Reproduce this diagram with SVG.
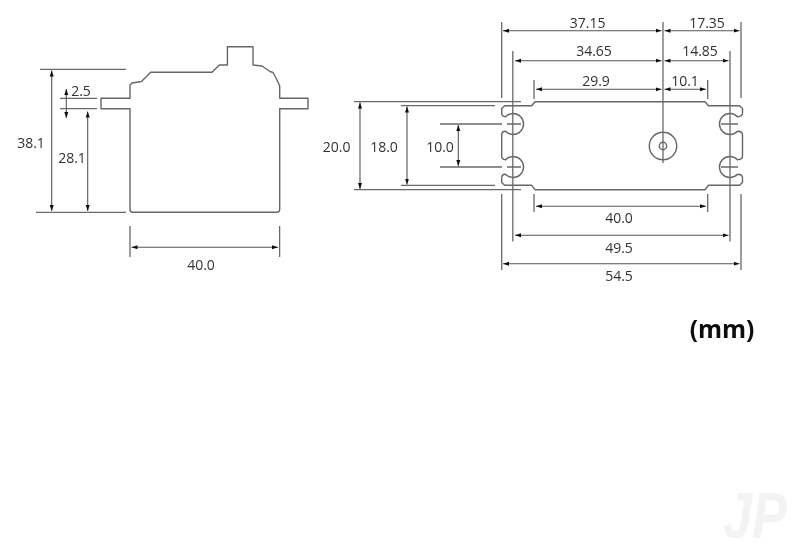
<svg xmlns="http://www.w3.org/2000/svg" width="800" height="556" viewBox="0 0 800 556">
<style>
text{font-family:"Open Sans","Liberation Sans",sans-serif;font-size:14px;fill:#333;text-anchor:middle}
.o{fill:none;stroke:#666;stroke-width:1.4;stroke-linejoin:round}
.e{fill:none;stroke:#6a6a6a;stroke-width:1.3}
line{stroke:#555;stroke-width:1.1;marker-start:url(#a);marker-end:url(#a)}
</style>
<defs>
<marker id="a" markerUnits="userSpaceOnUse" markerWidth="7" markerHeight="6" refX="6" refY="3" orient="auto-start-reverse"><path d="M0 1L6 3L0 5Z" fill="#111"/></marker>
<filter id="soft" x="0" y="0" width="1" height="1"><feGaussianBlur stdDeviation="0.35"/></filter>
</defs>
<rect width="800" height="556" fill="#fff"/>
<g filter="url(#soft)">
<g id="side-view"><path class="o" d="M130 98.3V85L132 83L141.5 81.5L150.7 72.3H212L219.3 65H227.4V46.7H253V65L262 66L270 71.5L273 72.5L277 80L279.7 86V98.3H308V108.7H279.7V209.3Q279.7 212.3 276.7 212.3H133Q130 212.3 130 209.3V108.7H101V98.3Z"/></g>
<g id="top-view"><path class="o" d="M531.7 105.7L535 101.7H705L708.5 105.7H739.5L742.5 108.5V113Q742.5 116.7 737.5 116.7A10.5 10.5 0 1 0 737.5 131.3Q742.5 131.3 742.5 135V156Q742.5 159.7 737.5 159.7A10.5 10.5 0 1 0 737.5 174.3Q742.5 174.3 742.5 178V182.5L739.5 185.3H708.5L705 189.7H535L531.7 185.3H504.7L501.7 182.5V178Q501.7 174.3 505.5 174.3A10.5 10.5 0 1 0 505.5 159.7Q501.7 159.7 501.7 156V135Q501.7 131.3 505.5 131.3A10.5 10.5 0 1 0 505.5 116.7Q501.7 116.7 501.7 113V108.5L504.7 105.7Z"/><circle class="o" cx="663" cy="146" r="13.7"/><circle class="o" cx="663" cy="146" r="3.7"/></g>
<g id="connectors">
<path class="e" d="M40 69.3H126M36 212.3H126M60 98.3H97M60 108.7H97M130 226V257M279.6 226V257"/>
<path class="e" d="M354 101.7H521M354 189.7H521M401 105.7H495M401 185.3H495M440 124H502M507 124H521M440 167H502M507 167H521M721 124H738M721 167H738"/>
<path class="e" d="M663 22V163M501.7 22V98M741 22V98M512.8 51V241.5M730 51V241.5M534 80V99M707.7 80V99M534 194V212M707.7 194V212M501.7 194V270M741 194V270"/>
<line x1="51.7" y1="70.5" x2="51.7" y2="211"/>
<line x1="87.7" y1="111.5" x2="87.7" y2="211"/>
<line x1="66.3" y1="89" x2="66.3" y2="118"/>
<line x1="131.5" y1="247.3" x2="278" y2="247.3"/>
<line x1="360" y1="102.5" x2="360" y2="189"/>
<line x1="407" y1="106.5" x2="407" y2="184.5"/>
<line x1="458.3" y1="125" x2="458.3" y2="166"/>
<line x1="503" y1="30.7" x2="661.5" y2="30.7"/>
<line x1="664.5" y1="30.7" x2="739.5" y2="30.7"/>
<line x1="515" y1="60.7" x2="661.5" y2="60.7"/>
<line x1="664.5" y1="60.7" x2="728.5" y2="60.7"/>
<line x1="536" y1="89.3" x2="661.5" y2="89.3"/>
<line x1="664.5" y1="89.3" x2="706" y2="89.3"/>
<line x1="536" y1="206.3" x2="706" y2="206.3"/>
<line x1="515" y1="235.3" x2="728.5" y2="235.3"/>
<line x1="503" y1="263.7" x2="739.5" y2="263.7"/>
</g>
<g id="labels">
<text x="81" y="95.7">2.5</text><text x="31" y="148">38.1</text><text x="72" y="162.7">28.1</text><text x="201" y="270">40.0</text>
<text x="587.7" y="28">37.15</text><text x="707" y="28">17.35</text><text x="594" y="56">34.65</text><text x="700" y="56">14.85</text><text x="596" y="86">29.9</text><text x="685" y="86">10.1</text>
<text x="336.7" y="152">20.0</text><text x="384" y="152">18.0</text><text x="440" y="152">10.0</text>
<text x="619" y="223">40.0</text><text x="619" y="253">49.5</text><text x="619" y="280.5">54.5</text>
<text x="722" y="338" style="font-size:24.5px;font-weight:700;fill:#111">(mm)</text>
<text x="755" y="538" textLength="64" lengthAdjust="spacingAndGlyphs" style="font-size:64px;font-weight:700;font-style:italic;fill:#f3f3f3;font-family:'Liberation Sans',sans-serif">JP</text>
</g>
</g>
</svg>
